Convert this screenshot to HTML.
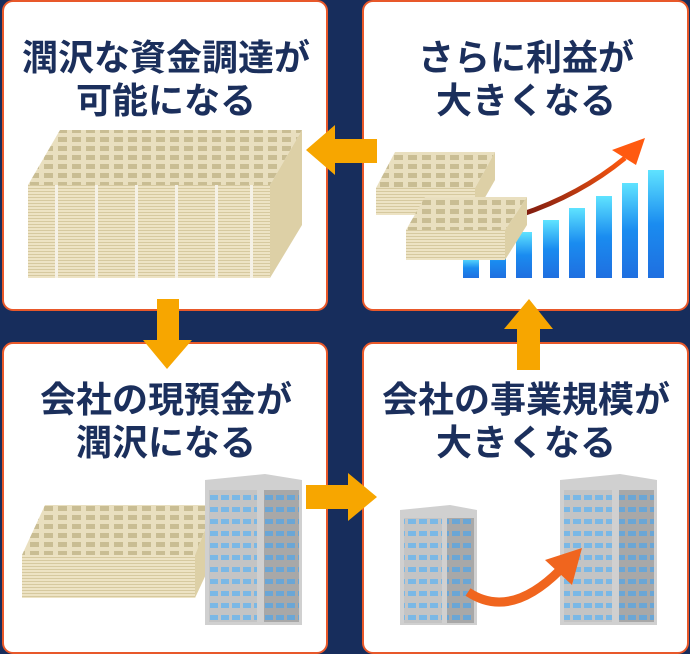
<!DOCTYPE html>
<html><head><meta charset="utf-8"><style>
html,body{margin:0;padding:0;background:#172d5c;}
svg{display:block}
text{font-family:"Liberation Sans","Noto Sans CJK JP",sans-serif;font-weight:bold;fill:#1b2f5c;font-size:36px;text-anchor:middle}
</style></head><body>
<svg width="690" height="654" viewBox="0 0 690 654" xmlns="http://www.w3.org/2000/svg">
<defs>
<pattern id="bill" width="14" height="9" patternUnits="userSpaceOnUse">
<rect width="14" height="9" fill="#e9dfbf"/>
<rect x="2" y="2" width="9" height="5" fill="#c9bd93"/>
</pattern>
<pattern id="edge" width="4" height="3" patternUnits="userSpaceOnUse">
<rect width="4" height="3" fill="#ede3c4"/>
<rect y="2" width="4" height="1" fill="#d6c99f"/>
</pattern>
<pattern id="win" width="11" height="12" patternUnits="userSpaceOnUse">
<rect width="11" height="12" fill="#c4c4c4"/>
<rect x="1" y="3" width="8" height="5" fill="#7ab8e6"/>
</pattern>
<pattern id="win2" width="11" height="12" patternUnits="userSpaceOnUse">
<rect width="11" height="12" fill="#a8a8a8"/>
<rect x="1" y="3" width="8" height="5" fill="#6aa6d6"/>
</pattern>
<linearGradient id="bar" x1="0" y1="0" x2="0" y2="1">
<stop offset="0" stop-color="#5fe3ff"/><stop offset="0.5" stop-color="#1a8cf0"/><stop offset="1" stop-color="#1f6fe0"/>
</linearGradient>
<linearGradient id="red" x1="0" y1="1" x2="1" y2="0">
<stop offset="0" stop-color="#7a1a10"/><stop offset="1" stop-color="#ff5a10"/>
</linearGradient>
</defs>
<rect width="690" height="654" fill="#172d5c"/>
<g fill="#fff" stroke="#e8582a" stroke-width="2">
<rect x="3" y="1" width="324" height="309" rx="10"/>
<rect x="363" y="1" width="325" height="309" rx="10"/>
<rect x="3" y="343" width="324" height="310" rx="10"/>
<rect x="363" y="343" width="325" height="310" rx="10"/>
</g>

<text x="166" y="70">潤沢な資金調達が</text>
<text x="166" y="113">可能になる</text>
<text x="526" y="70">さらに利益が</text>
<text x="526" y="113">大きくなる</text>
<text x="166" y="412">会社の現預金が</text>
<text x="166" y="455">潤沢になる</text>
<text x="526" y="412">会社の事業規模が</text>
<text x="526" y="455">大きくなる</text>

<!-- TL money -->
<polygon points="28,185 60,130 302,130 270,185" fill="url(#bill)"/>
<rect x="28" y="185" width="242" height="93" fill="url(#edge)"/>
<polygon points="270,185 302,130 302,225 270,278" fill="#ddd0a6"/>
<g fill="#f5f1e6"><rect x="55" y="185" width="3" height="93"/><rect x="95" y="185" width="3" height="93"/><rect x="135" y="185" width="3" height="93"/><rect x="175" y="185" width="3" height="93"/><rect x="215" y="185" width="3" height="93"/><rect x="250" y="185" width="3" height="93"/></g>

<!-- TR chart -->
<g fill="url(#bar)">
<rect x="463" y="258" width="16" height="20"/><rect x="490" y="245" width="16" height="33"/>
<rect x="516" y="232" width="16" height="46"/><rect x="543" y="220" width="16" height="58"/>
<rect x="569" y="208" width="16" height="70"/><rect x="596" y="196" width="16" height="82"/>
<rect x="622" y="183" width="16" height="95"/><rect x="648" y="170" width="16" height="108"/>
</g>
<path d="M520 215 Q580 195 625 158" stroke="url(#red)" stroke-width="5" fill="none"/>
<polygon points="612,150 645,138 636,165" fill="#ff5a10"/>
<polygon points="376,188 395,152 495,152 475,188" fill="url(#bill)"/>
<rect x="376" y="188" width="99" height="27" fill="url(#edge)"/>
<polygon points="475,188 495,152 495,180 475,215" fill="#ddd0a6"/>
<polygon points="406,230 425,197 527,197 505,230" fill="url(#bill)"/>
<rect x="406" y="230" width="99" height="30" fill="url(#edge)"/>
<polygon points="505,230 527,197 527,225 505,260" fill="#ddd0a6"/>

<!-- BL -->
<polygon points="22,555 45,505 215,505 195,555" fill="url(#bill)"/>
<rect x="22" y="555" width="173" height="43" fill="url(#edge)"/>
<polygon points="195,555 215,505 215,555 195,598" fill="#ddd0a6"/>
<polygon points="205,480 265,474 302,480 302,625 205,625" fill="#d0d0d0"/>
<rect x="209" y="490" width="48" height="132" fill="url(#win)"/>
<rect x="264" y="490" width="35" height="132" fill="url(#win2)"/>

<!-- BR -->
<polygon points="400,510 450,505 477,510 477,625 400,625" fill="#d0d0d0"/>
<rect x="404" y="518" width="38" height="105" fill="url(#win)"/>
<rect x="447" y="518" width="27" height="105" fill="url(#win2)"/>
<polygon points="560,480 620,474 657,480 657,625 560,625" fill="#d0d0d0"/>
<rect x="564" y="490" width="48" height="132" fill="url(#win)"/>
<rect x="619" y="490" width="35" height="132" fill="url(#win2)"/>
<path d="M468 592 Q510 620 560 570" stroke="#f0651e" stroke-width="9" fill="none"/>
<polygon points="545,560 582,548 572,585" fill="#f0651e"/>

<!-- arrows -->
<g fill="#f7a600">
<polygon points="306,150 335,125 335,139 377,139 377,163 335,163 335,175"/>
<polygon points="157,299 179,299 179,340 192,340 167,369 143,340 157,340"/>
<polygon points="306,485 348,485 348,473 377,497 348,521 348,509 306,509"/>
<polygon points="529,299 553,329 540,329 540,370 517,370 517,329 504,329"/>
</g>
</svg>
</body></html>
